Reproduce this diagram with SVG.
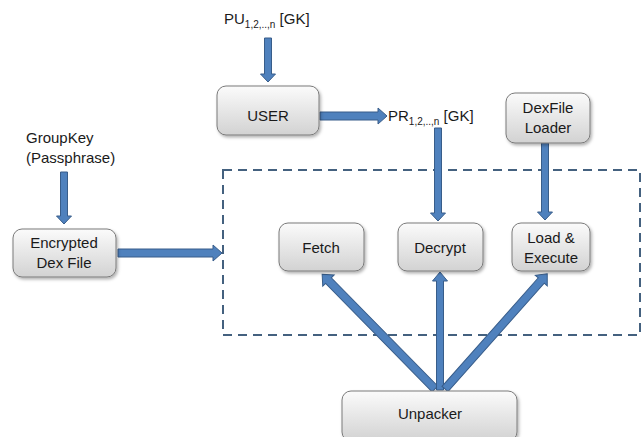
<svg xmlns="http://www.w3.org/2000/svg" width="644" height="437" viewBox="0 0 644 437">
<defs>
<linearGradient id="bg" x1="0" y1="0" x2="0" y2="1">
<stop offset="0" stop-color="#fbfbfb"/>
<stop offset="1" stop-color="#d2d2d2"/>
</linearGradient>
<filter id="sh" x="-10%" y="-10%" width="130%" height="140%">
<feDropShadow dx="1.5" dy="2" stdDeviation="1.5" flood-color="#000" flood-opacity="0.3"/>
</filter>
</defs>
<style>
.box{fill:url(#bg);stroke:#7a7a7a;stroke-width:1;filter:url(#sh)}
text{font-family:"Liberation Sans",Arial,sans-serif;font-size:15px;fill:#1a1a1a}
.c{text-anchor:middle}
.sub{font-size:10px}
.arr{fill:#4f81bd;stroke:#385d8a;stroke-width:1}
.dash{fill:none;stroke:#44617f;stroke-width:2;stroke-dasharray:9 6}
</style>
<rect class="dash" x="223" y="170" width="417" height="165"/>
<g id="connectors">
<polygon class="arr" transform="translate(268,38) rotate(90)" points="0,-3.5 36,-3.5 36,-7.5 44,0 36,7.5 36,3.5 0,3.5"/>
<polygon class="arr" transform="translate(320,116) rotate(0)" points="0,-4 58,-4 58,-8 67,0 58,8 58,4 0,4"/>
<polygon class="arr" transform="translate(438,128) rotate(90)" points="0,-3.5 85,-3.5 85,-7.5 93,0 85,7.5 85,3.5 0,3.5"/>
<polygon class="arr" transform="translate(545,143) rotate(90)" points="0,-3.5 69,-3.5 69,-7.5 77,0 69,7.5 69,3.5 0,3.5"/>
<polygon class="arr" transform="translate(64,172) rotate(90)" points="0,-3.5 44,-3.5 44,-7.5 52,0 44,7.5 44,3.5 0,3.5"/>
<polygon class="arr" transform="translate(118,253) rotate(0)" points="0,-4 95,-4 95,-8 104,0 95,8 95,4 0,4"/>
<polygon class="arr" transform="translate(435,389) rotate(-134.5)" points="0,-4 152,-4 152,-8 161,0 152,8 152,4 0,4"/>
<polygon class="arr" transform="translate(440,390) rotate(-90)" points="0,-3.5 109,-3.5 109,-7.5 118,0 109,7.5 109,3.5 0,3.5"/>
<polygon class="arr" transform="translate(445,389) rotate(-48.4)" points="0,-4 145,-4 145,-8 154,0 145,8 145,4 0,4"/>
</g>
<g id="pu">
<text x="224" y="24">PU<tspan class="sub" dy="4">1,2,..,n</tspan><tspan dy="-4"> [GK]</tspan></text>
</g>
<g id="user">
<rect class="box" x="217" y="86" width="102" height="49" rx="9"/>
<text class="c" x="268" y="121">USER</text>
</g>
<g id="pr">
<text x="388" y="121">PR<tspan class="sub" dy="4">1,2,..,n</tspan><tspan dy="-4"> [GK]</tspan></text>
</g>
<g id="groupkey">
<text x="26" y="143">GroupKey</text>
<text x="26" y="163">(Passphrase)</text>
</g>
<g id="encrypted">
<rect class="box" x="13" y="229" width="103" height="48" rx="9"/>
<text class="c" x="64" y="248">Encrypted</text>
<text class="c" x="64" y="268">Dex File</text>
</g>
<g id="dexloader">
<rect class="box" x="506" y="93" width="84" height="50" rx="9"/>
<text class="c" x="548" y="113">DexFile</text>
<text class="c" x="548" y="133">Loader</text>
</g>
<g id="fetch">
<rect class="box" x="279" y="223" width="85" height="48" rx="9"/>
<text class="c" x="321" y="253">Fetch</text>
</g>
<g id="decrypt">
<rect class="box" x="398" y="223" width="85" height="48" rx="9"/>
<text class="c" x="440" y="253">Decrypt</text>
</g>
<g id="load">
<rect class="box" x="512" y="223" width="78" height="48" rx="9"/>
<text class="c" x="551" y="243">Load &amp;</text>
<text class="c" x="551" y="263">Execute</text>
</g>
<g id="unpacker">
<rect class="box" x="342" y="391" width="175" height="50" rx="9"/>
<text class="c" x="430" y="419">Unpacker</text>
</g>
</svg>
